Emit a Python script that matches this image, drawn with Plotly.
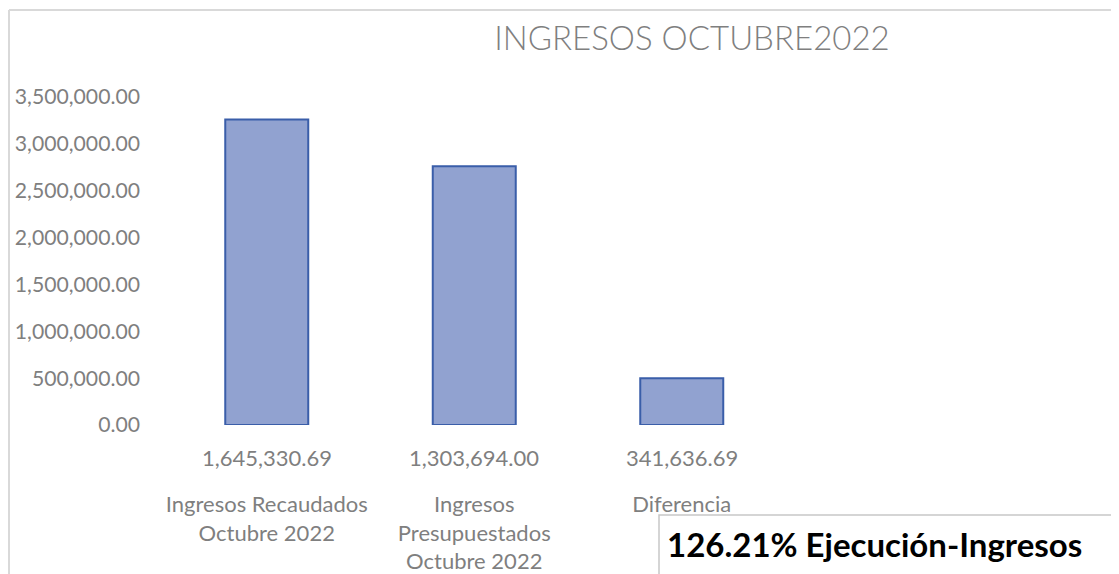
import plotly.graph_objects as go

categories = ["Ingresos Recaudados<br>Octubre 2022",
              "Ingresos<br>Presupuestados<br>Octubre 2022",
              "Diferencia"]
bar_heights = [3260000, 2760000, 500000]
value_labels = ["1,645,330.69", "1,303,694.00", "341,636.69"]
y_ticks = [0, 500000, 1000000, 1500000, 2000000, 2500000, 3000000, 3500000]
y_tick_labels = ["0.00", "500,000.00", "1,000,000.00", "1,500,000.00",
                 "2,000,000.00", "2,500,000.00", "3,000,000.00", "3,500,000.00"]
title_text = "INGRESOS OCTUBRE2022"
note_text = "126.21% Ejecución-Ingresos"

OFF = 8  # page body margin
W, H = 1119 - OFF, 574 - OFF
L, R, T, B = 163 - OFF, 0, 97 - OFF, 145
pw = W - L - R
ph = H - T - B

def px_x(x):
    return (x - OFF - L) / pw

def px_y(y):
    return (H - B - (y - OFF)) / ph

gray = "#7f7f7f"
font = "Lato, 'Open Sans', sans-serif"
fs = 22

xs = list(range(len(categories)))

fig = go.Figure()
fig.add_trace(go.Bar(
    x=xs, y=bar_heights, width=0.4,
    marker=dict(color="#91a2d0", line=dict(color="#3a5ea9", width=2)),
    hoverinfo="skip",
))

for xi, lab in zip(xs, value_labels):
    fig.add_annotation(x=xi, xref="x", y=0, yref="y", text=lab, showarrow=False,
                       yanchor="middle", yshift=-32,
                       font=dict(family=font, size=fs, color=gray))

fig.update_layout(
    width=W, height=H,
    margin=dict(l=L, r=R, t=T, b=B, pad=0),
    paper_bgcolor="white", plot_bgcolor="white",
    showlegend=False,
    title=dict(text=title_text, x=px_x(692), xref="paper", xanchor="center",
               y=1 - (38 - OFF) / H, yref="container", yanchor="middle",
               font=dict(family=font, size=33, color=gray, weight=300)),
    xaxis=dict(range=[-0.5, pw / 207.5 - 0.5], tickvals=xs, ticktext=categories,
               showgrid=False, zeroline=False, showline=False, ticks="",
               ticklabelstandoff=64,
               tickfont=dict(family=font, size=fs, color=gray)),
    yaxis=dict(range=[0, 3500000], tickvals=y_ticks, ticktext=y_tick_labels,
               showgrid=False, zeroline=False, showline=False, ticks="",
               ticklabelstandoff=22,
               tickfont=dict(family=font, size=21.2, color=gray)),
)

# outer chart border (left and top)
fig.add_shape(type="line", xref="paper", yref="paper",
              x0=px_x(9), x1=px_x(9), y0=px_y(9), y1=px_y(580),
              line=dict(color="#d9d9d9", width=2))
fig.add_shape(type="line", xref="paper", yref="paper",
              x0=px_x(9), x1=px_x(1130), y0=px_y(9), y1=px_y(9),
              line=dict(color="#d9d9d9", width=2))

# note box
fig.add_shape(type="rect", xref="paper", yref="paper",
              x0=px_x(659), x1=px_x(1130), y0=px_y(520), y1=px_y(590),
              line=dict(color="#c8c8c8", width=1.5), fillcolor="white")
fig.add_annotation(x=px_x(665), xref="paper", y=px_y(549), yref="paper",
                   text="<b>" + note_text + "</b>", showarrow=False,
                   xanchor="left", yanchor="middle",
                   font=dict(family=font, size=33, color="black"))

fig.write_html("out.html")
